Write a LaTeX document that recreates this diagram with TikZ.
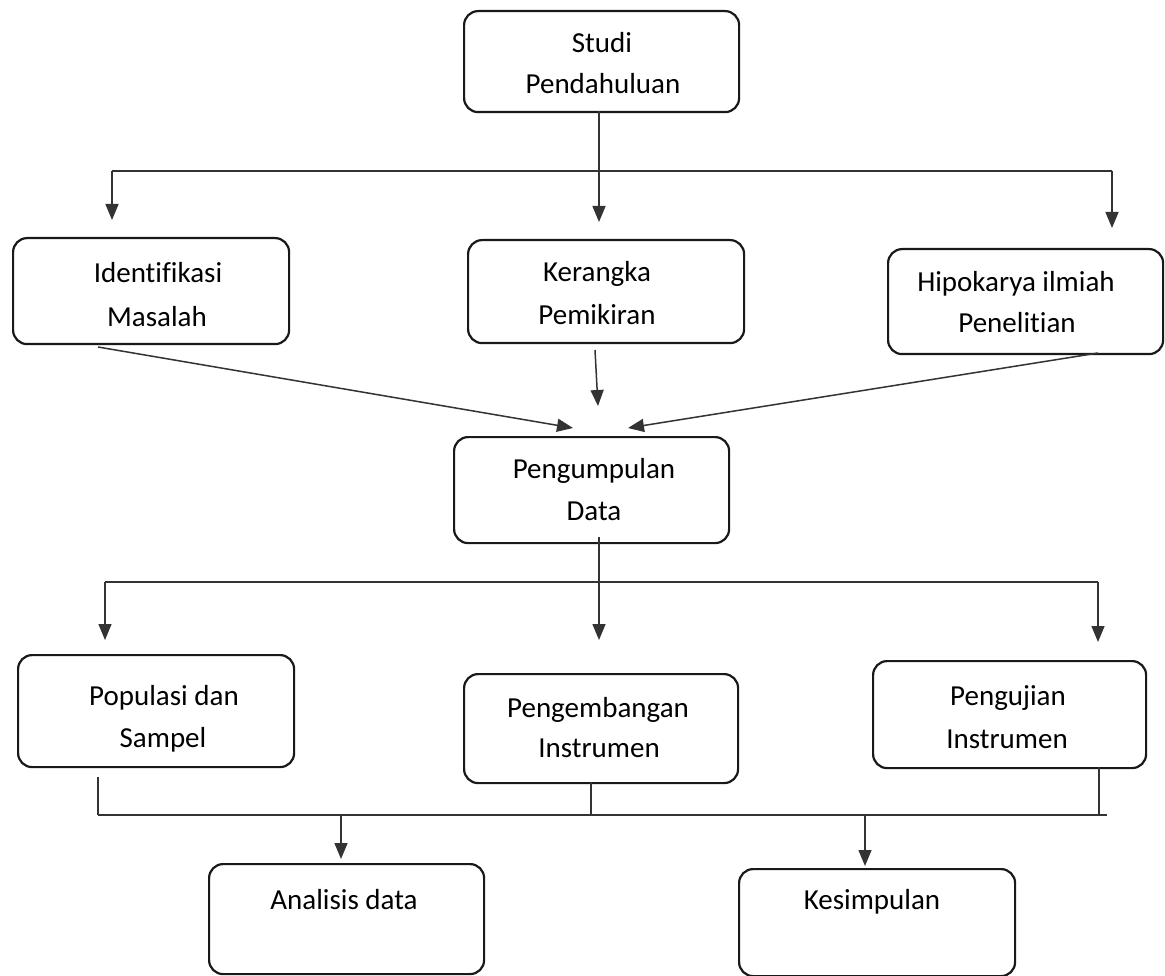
\documentclass[tikz,border=0pt]{standalone}
\usepackage{fontspec}
\setmainfont{Carlito}[Ligatures={NoCommon}]
\usetikzlibrary{arrows.meta}
\begin{document}
\begin{tikzpicture}[x=1pt,y=-1pt,
  box/.style={draw=black!90, line width=2.2pt, rounded corners=14pt, inner sep=0pt, anchor=north west},
  txt/.style={font=\fontsize{29}{35}\selectfont, inner sep=0pt, anchor=base, text=black},
  conn/.style={draw=black!80, line width=1.5pt},
  arr/.style={conn, -{Triangle[length=16pt,width=13pt]}}]
\useasboundingbox (0,0) rectangle (1165,976);
\path[fill=white] (0,0) rectangle (1165,976);

% boxes
\node[box, minimum width=275pt, minimum height=101pt] (studi)  at (463,10)  {};
\node[box, minimum width=276pt, minimum height=106pt] (ident)  at (12,237)  {};
\node[box, minimum width=276pt, minimum height=103pt] (keran)  at (467,239) {};
\node[box, minimum width=275pt, minimum height=105pt] (hipo)   at (887,248) {};
\node[box, minimum width=275pt, minimum height=106pt] (pengum) at (453,436) {};
\node[box, minimum width=276pt, minimum height=112pt] (popul)  at (17,654)  {};
\node[box, minimum width=274pt, minimum height=109pt] (pengem) at (463,673) {};
\node[box, minimum width=273pt, minimum height=107pt] (penguj) at (872,660) {};
\node[box, minimum width=275pt, minimum height=110pt] (anal)   at (208,863) {};
\node[box, minimum width=276pt, minimum height=107pt] (kesim)  at (738,868) {};

% texts
\node[txt] (t1a) at (602,53)  {Studi};
\node[txt] (t1b) at (603,94)  {Pendahuluan};
\node[txt] (t2a) at (158,283) {Identifikasi};
\node[txt] (t2b) at (157,327) {Masalah};
\node[txt] (t3a) at (597,282) {Kerangka};
\node[txt] (t3b) at (597,325) {Pemikiran};
\node[txt] (t4a) at (1016,292) {Hipokarya ilmiah};
\node[txt] (t4b) at (1017,333) {Penelitian};
\node[txt] (t5a) at (594,478) {Pengumpulan};
\node[txt] (t5b) at (594,520) {Data};
\node[txt] (t6a) at (164,705) {Populasi dan};
\node[txt] (t6b) at (163,747) {Sampel};
\node[txt] (t7a) at (598,717) {Pengembangan};
\node[txt] (t7b) at (599,757) {Instrumen};
\node[txt] (t8a) at (1008,705) {Pengujian};
\node[txt] (t8b) at (1007,748) {Instrumen};
\node[txt] (t9)  at (344,909) {Analisis data};
\node[txt] (t10) at (872,909) {Kesimpulan};

% coordinates
\coordinate (sb)   at (599,111);
\coordinate (ktip) at (599,222);
\coordinate (h1L)  at (112,171);
\coordinate (h1R)  at (1112,171);
\coordinate (itip) at (112,220);
\coordinate (htip) at (1112,228);
\coordinate (id1)  at (98,347);
\coordinate (pg1)  at (573,428);
\coordinate (kr1)  at (595,350);
\coordinate (pg2)  at (598,406);
\coordinate (hp1)  at (1098,353);
\coordinate (pg3)  at (628,428);
\coordinate (pgb)  at (599,537);
\coordinate (mtip) at (599,640);
\coordinate (h2L)  at (105,582);
\coordinate (h2R)  at (1098,582);
\coordinate (ptip) at (105,640);
\coordinate (jtip) at (1098,642);
\coordinate (po1)  at (98,777);
\coordinate (bL)   at (98,815);
\coordinate (pm1)  at (591,782);
\coordinate (bM)   at (591,815);
\coordinate (pj1)  at (1099,767);
\coordinate (bR)   at (1099,815);
\coordinate (bE)   at (1107,815);
\coordinate (a1)   at (341,815);
\coordinate (atip) at (341,859);
\coordinate (k1)   at (865,815);
\coordinate (kstip) at (865,866);

% connectors level 1
\draw[conn] (h1L) -- (h1R);
\draw[arr] (sb) -- (ktip);
\draw[arr] (h1L) -- (itip);
\draw[arr] (h1R) -- (htip);

% converging
\draw[arr] (id1) -- (pg1);
\draw[arr] (kr1) -- (pg2);
\draw[arr] (hp1) -- (pg3);

% level 2
\draw[conn] (h2L) -- (h2R);
\draw[arr] (pgb) -- (mtip);
\draw[arr] (h2L) -- (ptip);
\draw[arr] (h2R) -- (jtip);

% bus
\draw[conn] (po1) -- (bL);
\draw[conn] (pm1) -- (bM);
\draw[conn] (pj1) -- (bR);
\draw[conn] (bL) -- (bE);
\draw[arr] (a1) -- (atip);
\draw[arr] (k1) -- (kstip);
\end{tikzpicture}
\end{document}
